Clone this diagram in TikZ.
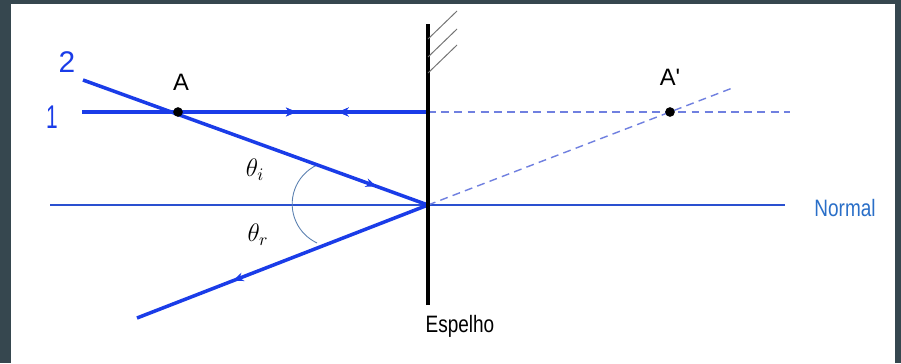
\documentclass[tikz,border=0pt]{standalone}
\usepackage{fontspec}
\setmainfont{Liberation Sans}
\usetikzlibrary{arrows.meta,decorations.markings}
\definecolor{bordergray}{HTML}{36474F}
\definecolor{rayblue}{HTML}{1A3CE8}
\definecolor{normalblue}{HTML}{2A50D0}
\definecolor{dashblue}{HTML}{7080E0}
\definecolor{labelblue}{HTML}{2A6FC8}
\definecolor{arcblue}{HTML}{5A80B0}
\tikzset{
  ray/.style={draw=rayblue,line width=2pt},
  dashray/.style={draw=dashblue,line width=0.8pt,dash pattern=on 4.5pt off 3pt},
  normline/.style={draw=normalblue,line width=0.6pt},
  mirror/.style={draw=black,line width=2.3pt},
  hatch/.style={draw=gray!90!black,line width=0.55pt},
  dot/.style={circle,fill=black,inner sep=0pt,minimum size=5.5pt},
  lbl/.style={font=\fontsize{13.5}{16}\selectfont,inner sep=0pt},
  numlbl/.style={font=\fontsize{17}{19}\selectfont,text=rayblue,inner sep=0pt},
  thlbl/.style={font=\fontsize{14}{16}\selectfont,inner sep=0pt},
  midarrow/.style={postaction={decorate},decoration={markings,
     mark=at position #1 with {\arrow{Stealth[length=6pt,width=5pt]}}}},
  midarrowrev/.style={postaction={decorate},decoration={markings,
     mark=at position #1 with {\arrowreversed{Stealth[length=6pt,width=5pt]}}}}
}
\begin{document}
\begin{tikzpicture}[x=0.02cm,y=0.02cm]
\fill[bordergray] (0,0) rectangle (901,363);
\fill[white] (11,0) rectangle (895,359);
\useasboundingbox (0,0) rectangle (901,363);

% key points
\coordinate (O) at (428,158);
\coordinate (mt) at (428,339);
\coordinate (mb) at (428,58);
\coordinate (r1s) at (82,251);
\coordinate (r1m) at (428,251);
\coordinate (r1e) at (790,251);
\coordinate (r2s) at (83,283);
\coordinate (rfe) at (137,45);
\coordinate (vde) at (735,276);
\coordinate (nl) at (50,158);
\coordinate (nr) at (785,158);

% normal
\draw[normline] (nl) -- (nr);

% dashed virtual rays
\draw[dashray] (r1m) -- (r1e);
\draw[dashray] (O) -- (vde);

% angle arc
\draw[arcblue,line width=0.5pt] (317,198) arc[start angle=115,end angle=245,radius=43];

% ray 1 (both directions)
\draw[ray,midarrow=0.62,midarrowrev=0.74] (r1s) -- (r1m);
% ray 2 incident and reflected
\draw[ray,midarrow=0.85] (r2s) -- (O);
\draw[ray,midarrow=0.67] (O) -- (rfe);

% mirror and hatching
\draw[mirror] (mb) -- (mt);
\foreach \y/\n in {324/a,306/b,290/c}{
  \coordinate (h\n) at (428,\y);
  \draw[hatch] (h\n) -- ++(29,28);
}

% points
\node[dot] (A) at (178,251) {};
\node[dot] (Ap) at (670,251) {};

% labels
\node[lbl] (lA) at (181,281) {A};
\node[lbl] (lAp) at (670,286) {A\textquotesingle};
\node[numlbl] (l2) at (67,301) {2};
\node[numlbl] (l1) at (52,246) {\scalebox{0.7}[1.1]{1}};
\node[thlbl] (thi) at (255,193) {$\theta_i$};
\node[thlbl] (thr) at (258,128) {$\theta_r$};
\node[lbl,text=labelblue] (lN) at (845,155) {\scalebox{0.8}[1]{Normal}};
\node[lbl] (lE) at (460,37) {\scalebox{0.8}[1]{Espelho}};
\end{tikzpicture}
\end{document}
